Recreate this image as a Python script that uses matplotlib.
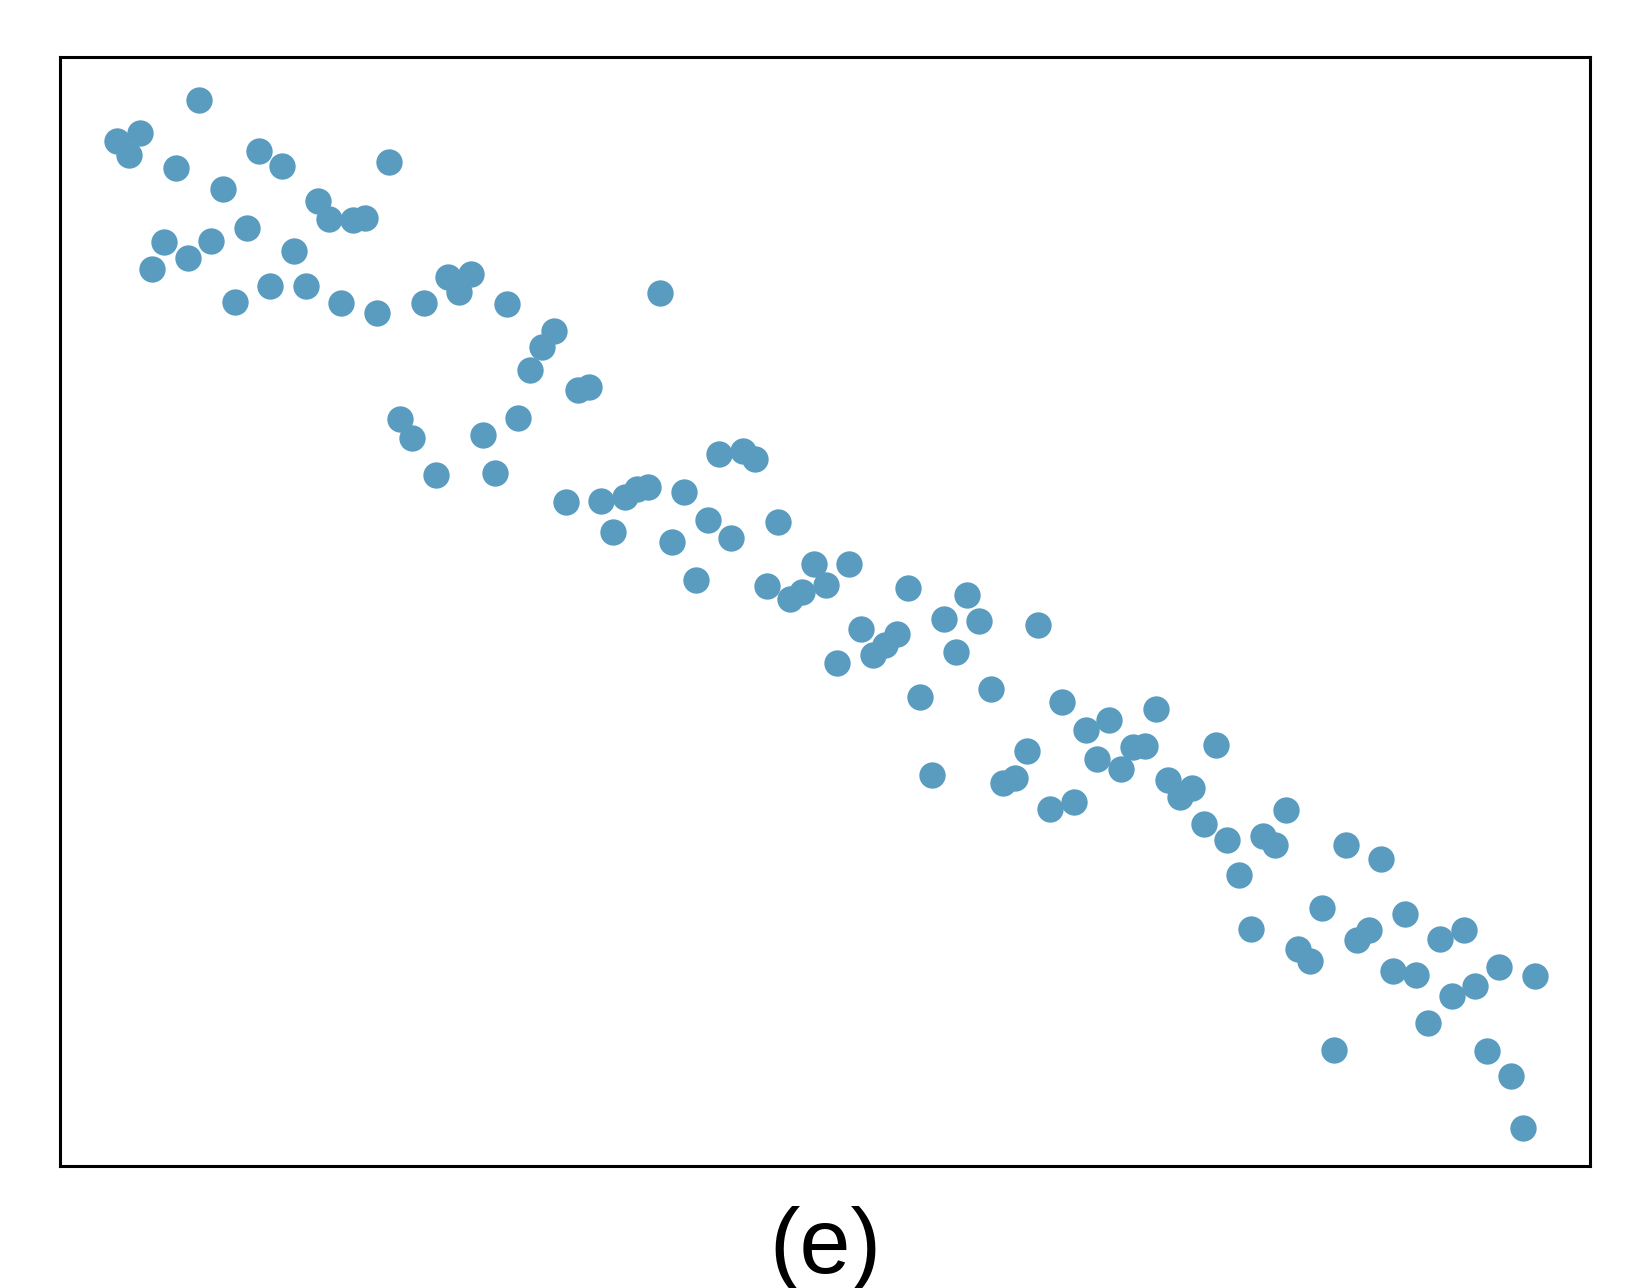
import matplotlib
matplotlib.use("Agg")
import matplotlib.pyplot as plt
import numpy as np

# one point per step along x
x = np.arange(1, 122)
y = [97.4, 96.1, 98.2, 85.3, 87.8, 94.9, 86.3, 101.3, 87.9, 92.9,
     82.1, 89.2, 96.5, 83.6, 95.0, 87.0, 83.6, 91.7, 90.0, 82.0,
     89.9, 90.1, 81.1, 95.4, 71.0, 69.2, 82.0, 65.7, 84.5, 83.1,
     84.8, 69.5, 65.9, 81.9, 71.1, 75.7, 77.8, 79.4, 63.1, 73.8,
     74.0, 63.2, 60.3, 63.6, 64.3, 64.5, 83.0, 59.3, 64.1, 55.7,
     61.4, 67.7, 59.7, 68.0, 67.2, 55.1, 61.2, 53.9, 54.6, 57.2,
     55.2, 47.8, 57.2, 51.0, 48.6, 49.5, 50.6, 54.9, 44.6, 37.2,
     52.0, 48.9, 54.3, 51.8, 45.3, 36.4, 36.9, 39.4, 51.4, 33.9,
     44.1, 34.6, 41.4, 38.7, 42.4, 37.7, 39.8, 39.9, 43.4, 36.7,
     35.1, 35.9, 32.5, 40.0, 31.0, 27.7, 22.5, 31.4, 30.5, 33.8,
     20.6, 19.5, 24.5, 11.0, 30.5, 21.5, 22.4, 29.2, 18.5, 24.0,
     18.2, 13.6, 21.6, 16.2, 22.4, 17.1, 10.9, 18.9, 8.6, 3.6,
     18.1]
label = "(e)"

fig = plt.figure(figsize=(16.5, 12.88), dpi=100)
ax = fig.add_axes([0.0364, 0.0947, 0.9273, 0.861])

ax.scatter(x, y, s=360, color="#599cc0", linewidths=0, zorder=3)

ax.set_xlim(-3.8, 125.7)
ax.set_ylim(0, 105.4)
ax.set_xticks([])
ax.set_yticks([])
for sp in ax.spines.values():
    sp.set_linewidth(2.2)
    sp.set_color("black")

fig.text(0.5, 0.012, label, ha="center", va="baseline", fontsize=66,
         family=["Liberation Sans", "DejaVu Sans"])

fig.savefig("out.png", dpi=100)
